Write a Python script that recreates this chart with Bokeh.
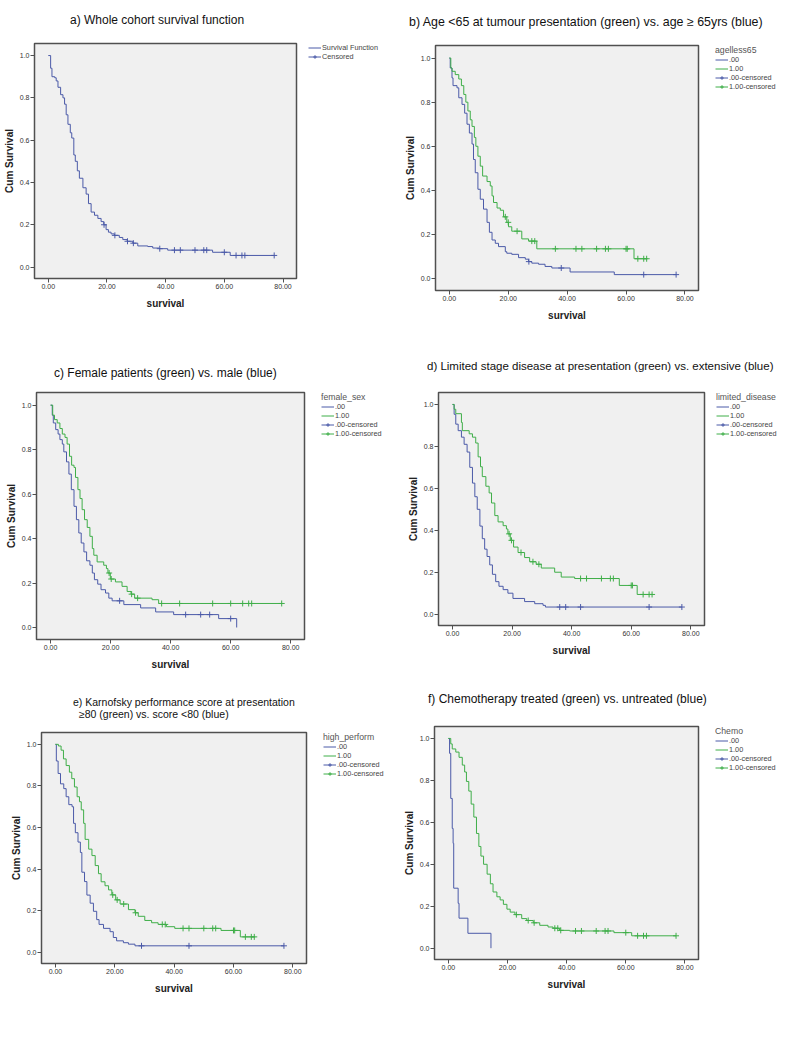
from bokeh.plotting import figure
from bokeh.models import Range1d, FixedTicker, NumeralTickFormatter, Legend, LegendItem, Div
from bokeh.layouts import row, column
from bokeh.embed import file_html
from bokeh.resources import INLINE

BLUE = "#4b5aa8"
GREEN = "#3fae49"
FONT = "Liberation Sans"

# ---------------- data ----------------
x_ticks = [0, 20, 40, 60, 80]
y_ticks = [0.0, 0.2, 0.4, 0.6, 0.8, 1.0]

# a) whole cohort
a_t = [0, 0.8, 1.25, 2.2, 2.7, 3.3, 4.2, 5.0, 5.55, 6.1, 6.7, 7.5, 8.0, 8.7, 9.2, 9.9, 10.6, 11.8, 12.9, 13.7,
       14.6, 15.75, 16.9, 18.0, 18.9, 19.7, 20.5, 21.4, 22.5, 24.2, 25.4, 26.9, 28.8, 30.5, 33.9, 35.6, 37.8,
       40.7, 56.0, 62.0, 77.0]
a_s = [1.0, 0.94, 0.90, 0.895, 0.88, 0.85, 0.815, 0.80, 0.77, 0.72, 0.675, 0.635, 0.61, 0.53, 0.50, 0.455, 0.42,
       0.375, 0.345, 0.30, 0.26, 0.245, 0.23, 0.215, 0.20, 0.177, 0.165, 0.157, 0.15, 0.14, 0.13, 0.122, 0.113,
       0.10, 0.097, 0.09, 0.087, 0.08, 0.07, 0.055, 0.055]
a_ct = [19.0, 22.7, 27.0, 29.0, 38.0, 43.0, 45.0, 50.0, 53.0, 54.0, 60.0, 64.0, 66.0, 67.0, 77.0]
a_cs = [0.20, 0.15, 0.122, 0.113, 0.087, 0.08, 0.08, 0.08, 0.08, 0.08, 0.07, 0.055, 0.055, 0.055, 0.055]

# b) age
b0_t = [0, 0.3, 0.9, 1.25, 2.6, 3.2, 4.3, 5.2, 6.0, 6.8, 7.7, 8.2, 8.8, 9.7, 10.5, 11.6, 12.8, 13.6, 14.5, 15.6,
        16.7, 19.0, 19.5, 21.2, 23.5, 25.8, 26.9, 28.0, 30.3, 32.5, 34.8, 41.0, 56.0, 77.0]
b0_s = [1.0, 0.955, 0.91, 0.875, 0.865, 0.82, 0.79, 0.75, 0.70, 0.66, 0.61, 0.54, 0.48, 0.405, 0.36, 0.315, 0.255,
        0.21, 0.175, 0.16, 0.145, 0.122, 0.115, 0.11, 0.095, 0.088, 0.077, 0.07, 0.065, 0.055, 0.048, 0.03, 0.018,
        0.018]
b0_ct = [27.0, 38.0, 66.0, 77.0]
b0_cs = [0.077, 0.048, 0.018, 0.018]
b1_t = [0, 0.5, 0.9, 2.0, 3.2, 4.1, 4.9, 5.6, 6.3, 7.1, 7.7, 8.5, 9.0, 9.7, 10.5, 11.3, 12.8, 13.9, 14.5, 15.0,
        16.2, 17.3, 18.4, 19.5, 20.1, 21.2, 24.6, 26.9, 29.7, 62.7, 67.3]
b1_s = [1.0, 0.955, 0.94, 0.925, 0.905, 0.875, 0.835, 0.80, 0.76, 0.72, 0.69, 0.64, 0.60, 0.555, 0.51, 0.465, 0.44,
        0.42, 0.375, 0.345, 0.32, 0.31, 0.28, 0.255, 0.235, 0.215, 0.18, 0.17, 0.135, 0.09, 0.09]
b1_ct = [19.0, 20.0, 23.0, 28.0, 29.0, 36.0, 43.0, 45.0, 50.0, 53.0, 54.0, 60.0, 60.4, 64.0, 66.0, 67.0]
b1_cs = [0.28, 0.255, 0.215, 0.17, 0.17, 0.135, 0.135, 0.135, 0.135, 0.135, 0.135, 0.135, 0.135, 0.09, 0.09, 0.09]

# c) sex
c0_t = [0, 0.55, 0.9, 1.7, 2.5, 3.1, 3.9, 4.4, 5.3, 6.1, 6.9, 7.8, 8.6, 9.4, 10.2, 11.1, 12.0, 13.1, 13.9, 14.6,
        15.7, 16.8, 18.3, 19.4, 20.5, 24.4, 30.0, 35.0, 41.0, 56.0, 62.0]
c0_s = [1.0, 0.955, 0.92, 0.89, 0.87, 0.845, 0.825, 0.79, 0.745, 0.69, 0.62, 0.545, 0.485, 0.425, 0.38, 0.34, 0.30,
        0.28, 0.245, 0.215, 0.195, 0.17, 0.155, 0.132, 0.12, 0.103, 0.088, 0.07, 0.058, 0.04, 0.0]
c0_ct = [23.0, 45.0, 50.0, 53.0, 60.0]
c0_cs = [0.12, 0.058, 0.058, 0.058, 0.04]
c1_t = [0, 0.7, 1.3, 2.2, 3.1, 3.9, 4.8, 5.5, 6.3, 7.0, 7.8, 8.3, 9.1, 9.8, 10.5, 11.3, 12.2, 13.1, 13.9, 14.4,
        15.5, 17.7, 18.6, 19.1, 19.9, 21.6, 23.8, 25.5, 26.8, 28.0, 33.8, 36.0, 77.0]
c1_s = [1.0, 0.955, 0.935, 0.92, 0.895, 0.87, 0.855, 0.825, 0.77, 0.73, 0.72, 0.675, 0.62, 0.58, 0.53, 0.485, 0.45,
        0.41, 0.355, 0.325, 0.295, 0.28, 0.265, 0.245, 0.218, 0.205, 0.185, 0.162, 0.15, 0.132, 0.125, 0.108, 0.108]
c1_ct = [19.5, 20.2, 27.0, 29.0, 37.0, 43.0, 54.0, 60.0, 64.0, 66.0, 67.0, 77.0]
c1_cs = [0.245, 0.218, 0.15, 0.132, 0.108, 0.108, 0.108, 0.108, 0.108, 0.108, 0.108, 0.108]

# d) stage
d0_t = [0, 0.55, 1.1, 1.9, 3.0, 3.9, 4.9, 5.8, 6.7, 7.5, 8.3, 9.2, 10.0, 10.8, 11.6, 12.5, 13.4, 14.5, 15.6, 17.0,
        18.6, 20.3, 24.2, 27.6, 30.4, 31.2, 77.0]
d0_s = [1.0, 0.953, 0.906, 0.875, 0.844, 0.81, 0.773, 0.70, 0.625, 0.56, 0.50, 0.42, 0.36, 0.31, 0.275, 0.235, 0.19,
        0.155, 0.133, 0.117, 0.10, 0.075, 0.06, 0.05, 0.042, 0.034, 0.034]
d0_ct = [36.0, 38.0, 43.0, 66.0, 77.0]
d0_cs = [0.034, 0.034, 0.034, 0.034, 0.034]
d1_t = [0, 0.55, 1.1, 3.0, 3.3, 5.6, 6.7, 7.8, 8.6, 9.4, 10.0, 11.2, 12.3, 13.1, 14.2, 15.3, 17.0, 18.1, 18.6, 19.4,
        20.5, 22.0, 24.2, 25.9, 28.1, 29.8, 34.3, 36.5, 41.0, 56.0, 62.0, 67.3]
d1_s = [1.0, 0.977, 0.956, 0.914, 0.875, 0.86, 0.844, 0.816, 0.75, 0.703, 0.656, 0.61, 0.578, 0.53, 0.47, 0.44,
        0.422, 0.406, 0.383, 0.352, 0.32, 0.294, 0.27, 0.25, 0.238, 0.22, 0.20, 0.177, 0.17, 0.137, 0.094, 0.094]
d1_ct = [19.0, 19.8, 23.0, 27.0, 29.0, 43.0, 45.0, 50.0, 53.0, 54.0, 60.0, 60.4, 64.0, 66.0, 67.0]
d1_cs = [0.383, 0.352, 0.294, 0.25, 0.238, 0.17, 0.17, 0.17, 0.17, 0.17, 0.137, 0.137, 0.094, 0.094, 0.094]

# e) Karnofsky
e0_t = [0, 0.3, 0.9, 1.7, 2.8, 3.6, 4.5, 5.6, 6.1, 6.7, 7.6, 8.4, 8.9, 9.8, 10.6, 11.7, 12.8, 13.9, 14.7, 16.2,
        18.4, 19.5, 20.6, 22.9, 24.6, 26.8, 77.0]
e0_s = [1.0, 0.92, 0.86, 0.81, 0.787, 0.748, 0.71, 0.70, 0.62, 0.575, 0.53, 0.48, 0.385, 0.34, 0.275, 0.236, 0.197,
        0.157, 0.134, 0.115, 0.099, 0.071, 0.055, 0.046, 0.039, 0.031, 0.031]
e0_ct = [29.0, 45.0, 77.0]
e0_cs = [0.031, 0.031, 0.031]
e1_t = [0, 1.0, 1.9, 2.7, 3.6, 4.7, 5.5, 6.4, 7.3, 8.1, 8.7, 9.5, 10.0, 11.2, 12.3, 13.4, 14.5, 15.4, 16.7, 17.9,
        19.0, 20.3, 21.8, 24.6, 26.8, 27.9, 30.1, 32.4, 34.6, 37.4, 40.2, 55.8, 62.3, 67.3]
e1_s = [1.0, 0.992, 0.972, 0.93, 0.898, 0.866, 0.835, 0.795, 0.748, 0.724, 0.685, 0.62, 0.543, 0.496, 0.465, 0.417,
        0.378, 0.339, 0.32, 0.30, 0.276, 0.252, 0.232, 0.205, 0.19, 0.173, 0.153, 0.142, 0.134, 0.123, 0.115, 0.105,
        0.074, 0.074]
e1_ct = [19.3, 20.8, 23.0, 27.0, 36.0, 37.0, 43.0, 45.0, 50.0, 53.0, 54.0, 60.0, 60.4, 64.0, 66.0, 67.0]
e1_cs = [0.276, 0.252, 0.232, 0.19, 0.134, 0.134, 0.115, 0.115, 0.115, 0.115, 0.115, 0.105, 0.105, 0.074, 0.074,
         0.074]

# f) chemotherapy
f0_t = [0, 0.4, 0.8, 1.3, 1.6, 1.8, 3.3, 3.6, 6.6, 14.4]
f0_s = [1.0, 0.929, 0.714, 0.571, 0.50, 0.286, 0.214, 0.143, 0.071, 0.0]
f0_ct = []
f0_cs = []
f1_t = [0, 0.8, 1.3, 2.5, 3.6, 4.7, 5.5, 6.1, 6.9, 7.7, 8.6, 9.5, 10.3, 11.0, 11.9, 13.1, 14.2, 15.1, 16.4, 17.5,
        18.6, 19.8, 20.9, 22.5, 24.8, 26.5, 28.7, 30.9, 33.7, 35.4, 37.6, 41.0, 56.0, 62.0, 77.0]
f1_s = [1.0, 0.974, 0.95, 0.935, 0.91, 0.873, 0.84, 0.795, 0.749, 0.687, 0.625, 0.547, 0.485, 0.439, 0.40, 0.353,
        0.307, 0.268, 0.245, 0.23, 0.209, 0.186, 0.172, 0.16, 0.141, 0.132, 0.121, 0.109, 0.101, 0.095, 0.085, 0.082,
        0.074, 0.059, 0.059]
f1_ct = [23.0, 27.0, 29.0, 36.0, 37.0, 38.0, 43.0, 45.0, 50.0, 53.0, 54.0, 60.0, 64.0, 66.0, 67.0, 77.0]
f1_cs = [0.16, 0.132, 0.121, 0.095, 0.095, 0.085, 0.082, 0.082, 0.082, 0.082, 0.082, 0.074, 0.059, 0.059, 0.059,
         0.059]

group_labels = [".00", "1.00", ".00-censored", "1.00-censored"]


def title_div(w, hd, lines):
    spans = ""
    for (txt, x, yc, fs) in lines:
        spans += ('<span style="position:absolute;left:%dpx;top:%dpx;font-family:\'Liberation Sans\';'
                  'font-size:%.1fpx;line-height:14px;color:#111111;white-space:nowrap;">%s</span>'
                  % (x, yc - 7, fs, txt))
    html = '<div style="position:relative;width:%dpx;height:%dpx;">%s</div>' % (w, hd, spans)
    return Div(text=html, width=w, height=hd, margin=0)


def make_cell(w, h, bl, br, bt, bb, legend_title, groups, single=False, gap=17):
    pad_r = 2
    mw = w - br + pad_r
    lw = br - pad_r
    p = figure(width=mw, height=h, x_range=Range1d(-4.7, 84.6), y_range=Range1d(-0.054, 1.057),
               output_backend="svg", toolbar_location=None,
               min_border_left=bl, min_border_right=pad_r, min_border_top=bt, min_border_bottom=bb,
               background_fill_color="#f0f0f0", border_fill_color="white",
               outline_line_color="#505050", outline_line_width=1.5)
    p.grid.visible = False
    p.xaxis.ticker = FixedTicker(ticks=x_ticks)
    p.xaxis.formatter = NumeralTickFormatter(format="0.00")
    p.yaxis.ticker = FixedTicker(ticks=y_ticks)
    p.yaxis.formatter = NumeralTickFormatter(format="0.0")
    p.xaxis.axis_label = "survival"
    p.yaxis.axis_label = "Cum Survival"
    for ax in (p.xaxis[0], p.yaxis[0]):
        ax.major_tick_out = 4
        ax.major_tick_in = 0
        ax.minor_tick_out = 0
        ax.minor_tick_in = 0
        ax.axis_line_color = "#505050"
        ax.major_tick_line_color = "#505050"
        ax.major_label_text_font = FONT
        ax.major_label_text_font_size = "7px"
        ax.major_label_text_color = "#333333"
        ax.major_label_standoff = 1
        ax.axis_label_text_font = FONT
        ax.axis_label_text_font_size = "10px"
        ax.axis_label_text_font_style = "bold"
        ax.axis_label_text_color = "#222222"
    p.xaxis.axis_label_standoff = 6
    p.yaxis.axis_label_standoff = 2

    # legend lives in its own small figure to the right of the plot frame;
    # its frame starts exactly where the legend should start.  Its proxy
    # renderers reuse the series data but the ranges keep them out of view.
    top_off = 1 if single else 5
    lf = figure(width=lw, height=h, x_range=Range1d(1000, 1001), y_range=Range1d(1000, 1001),
                output_backend="svg", toolbar_location=None, x_axis_type=None, y_axis_type=None,
                min_border_left=gap - pad_r, min_border_right=0, min_border_top=bt + top_off,
                min_border_bottom=0, outline_line_color=None,
                background_fill_color="white", border_fill_color="white")
    lf.grid.visible = False

    step_r = []
    cens_r = []
    for (t, s, ct, cs, col) in groups:
        p.step(t, s, mode="after", line_color=col, line_width=1)
        p.scatter(ct, cs, marker="cross", size=6, line_color=col, line_width=1)
        step_r.append(lf.step(t, s, mode="after", line_color=col, line_width=1))
        cens_r.append([lf.line(t, s, line_color=col, line_width=1),
                       lf.scatter(t, s, marker="cross", size=6, line_color=col, line_width=1)])
    if single:
        items = [LegendItem(label="Survival Function", renderers=[step_r[0]]),
                 LegendItem(label="Censored", renderers=cens_r[0])]
    else:
        items = [LegendItem(label=group_labels[0], renderers=[step_r[0]]),
                 LegendItem(label=group_labels[1], renderers=[step_r[1]]),
                 LegendItem(label=group_labels[2], renderers=cens_r[0]),
                 LegendItem(label=group_labels[3], renderers=cens_r[1])]
    kw = {}
    if legend_title:
        kw = dict(title=legend_title, title_text_font=FONT, title_text_font_size="8.7px",
                  title_text_font_style="normal", title_text_color="#555555", title_standoff=0)
    leg = Legend(items=items, location="top_left", orientation="vertical",
                 padding=0, margin=0, spacing=0, glyph_width=13, glyph_height=9, label_height=9,
                 label_standoff=1, label_text_font=FONT, label_text_font_size="7.3px",
                 label_text_color="#444444", background_fill_alpha=0, border_line_alpha=0, **kw)
    lf.add_layout(leg)
    return row(p, lf)


# row 1 (cell height 330, title strip 38)
da = title_div(392, 38, [("a) Whole cohort survival function", 70, 20, 12.0)])
pa = make_cell(392, 292, 33, 96, 4, 52, None, [(a_t, a_s, a_ct, a_cs, BLUE)], single=True, gap=12)
db = title_div(385, 38, [("b) Age &lt;65 at tumour presentation (green) vs. age &ge; 65yrs (blue)", 17, 22, 12.4)])
pb = make_cell(385, 292, 43, 79, 2, 40, "agelless65",
               [(b0_t, b0_s, b0_ct, b0_cs, BLUE), (b1_t, b1_s, b1_ct, b1_cs, GREEN)])
# row 2 (cell height 350, title strip 52)
dc = title_div(392, 52, [("c) Female patients (green) vs. male (blue)", 54, 43, 12.0)])
pc = make_cell(392, 298, 36, 88, 5, 41, "female_sex",
               [(c0_t, c0_s, c0_ct, c0_cs, BLUE), (c1_t, c1_s, c1_ct, c1_cs, GREEN)])
dd = title_div(385, 52, [("d) Limited stage disease at presentation (green) vs. extensive (blue)", 35, 36, 11.5)])
pd_ = make_cell(385, 298, 46, 73, 5, 55, "limited_disease",
                [(d0_t, d0_s, d0_ct, d0_cs, BLUE), (d1_t, d1_s, d1_ct, d1_cs, GREEN)], gap=12)
# row 3 (cell height 362, title strip 40)
de = title_div(392, 40, [("e) Karnofsky performance score at presentation", 73, 22, 10.5),
                         ("&ge;80 (green) vs. score &lt;80 (blue)", 79, 34, 10.5)])
pe = make_cell(392, 322, 41, 86, 7, 79, "high_perform",
               [(e0_t, e0_s, e0_ct, e0_cs, BLUE), (e1_t, e1_s, e1_ct, e1_cs, GREEN)])
df = title_div(385, 40, [("f) Chemotherapy treated (green) vs. untreated (blue)", 36, 19, 12.0)])
pf = make_cell(385, 322, 42, 79, 1, 83, "Chemo",
               [(f0_t, f0_s, f0_ct, f0_cs, BLUE), (f1_t, f1_s, f1_ct, f1_cs, GREEN)])

layout = column(row(column(da, pa), column(db, pb)),
                row(column(dc, pc), column(dd, pd_)),
                row(column(de, pe), column(df, pf)))
open("out.html", "w").write(file_html(layout, INLINE))
